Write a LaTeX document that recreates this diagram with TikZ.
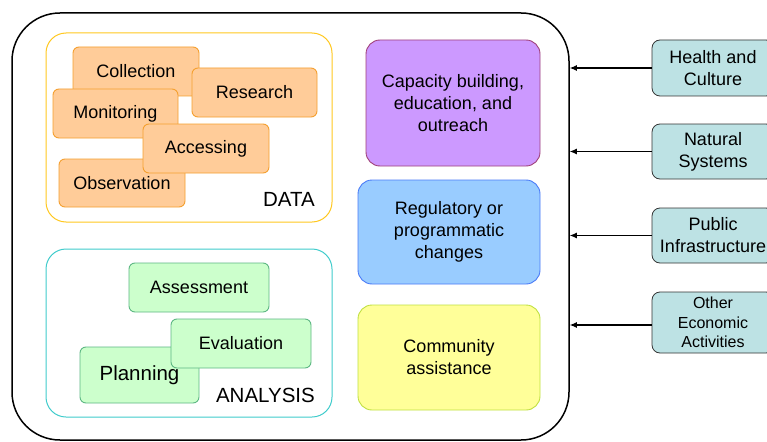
\documentclass[tikz,border=0pt]{standalone}
\usepackage{fontspec}
\setmainfont{Liberation Sans}
\usetikzlibrary{arrows.meta}
\definecolor{orfill}{HTML}{FFCC99}
\definecolor{ordraw}{HTML}{F5A030}
\definecolor{dataframe}{HTML}{FFC820}
\definecolor{anframe}{HTML}{40CCCC}
\definecolor{grfill}{HTML}{CCFFCC}
\definecolor{grdraw}{HTML}{5DB883}
\definecolor{pufill}{HTML}{CC99FF}
\definecolor{pudraw}{HTML}{A0407A}
\definecolor{blfill}{HTML}{99CCFF}
\definecolor{bldraw}{HTML}{4A7BF7}
\definecolor{yefill}{HTML}{FFFF99}
\definecolor{yedraw}{HTML}{C0E040}
\definecolor{tefill}{HTML}{BDE2E4}
\definecolor{tedraw}{HTML}{333333}
\tikzset{
  base/.style={inner sep=0pt, align=center, line width=0.9pt, font=\fontsize{18}{22}\selectfont},
  databox/.style={base, fill=orfill, draw=ordraw, rounded corners=6pt, minimum width=126pt, minimum height=49pt},
  anbox/.style={base, fill=grfill, draw=grdraw, rounded corners=6pt, minimum height=49pt},
  midbox/.style={base, rounded corners=14pt},
  impact/.style={base, fill=tefill, draw=tedraw, rounded corners=8pt, minimum width=122pt, line width=0.8pt},
  frame/.style={draw, line width=1pt, rounded corners=20pt, inner sep=0pt},
  lbl/.style={inner sep=0pt, anchor=east, font=\fontsize{20.5}{24}\selectfont},
  conn/.style={line width=1.1pt, -{Latex[length=7pt,width=6pt]}}
}
\begin{document}
\begin{tikzpicture}[x=1pt,y=-1pt]
\useasboundingbox (0,0) rectangle (767,441);
\fill[white] (0,0) rectangle (767,441);
% outer frame
\node[draw=black, line width=1.5pt, rounded corners=48pt, minimum width=557pt, minimum height=427pt, inner sep=0pt] (outer) at (290.5,226.5) {};
% DATA group
\node[frame, draw=dataframe, minimum width=286pt, minimum height=189pt] (dataf) at (189,127.5) {};
\node[databox] (coll) at (136,71.5) {Collection};
\node[databox, minimum width=125pt] (res) at (254.5,92.5) {Research};
\node[databox, minimum width=125pt] (mon) at (115.5,113.5) {Monitoring};
\node[databox, minimum height=48pt] (obs) at (122,183) {Observation};
\node[databox] (acc) at (206,148.5) {Accessing};
\node[lbl] (datal) at (315,199) {DATA};
% ANALYSIS group
\node[frame, draw=anframe, minimum width=286pt, minimum height=168pt] (anf) at (189,333) {};
\node[anbox, minimum width=140pt] (ass) at (199,287.5) {Assessment};
\node[anbox, minimum width=119pt, minimum height=56pt, font=\fontsize{20.5}{24}\selectfont] (plan) at (139.5,375) {Planning};
\node[anbox, minimum width=140pt] (eval) at (241,343.5) {Evaluation};
\node[lbl] (anl) at (315,395) {ANALYSIS};
% middle column
\node[midbox, fill=pufill, draw=pudraw, minimum width=174pt, minimum height=126pt] (cap) at (453,103) {Capacity building,\\education, and\\outreach};
\node[midbox, fill=blfill, draw=bldraw, minimum width=182pt, minimum height=104pt] (reg) at (449,232) {Regulatory or\\programmatic\\changes};
\node[midbox, fill=yefill, draw=yedraw, minimum width=182pt, minimum height=105pt] (com) at (449,357.5) {Community\\assistance};
% right column
\node[impact, minimum height=56pt] (hc) at (713,68) {Health and\\Culture};
\node[impact, minimum height=55pt] (ns) at (713,151.5) {Natural\\Systems};
\node[impact, minimum height=55pt] (pi) at (713,235.5) {Public\\Infrastructure};
\node[impact, minimum height=61pt, font=\fontsize{16}{19.5}\selectfont] (oe) at (713,322.5) {Other\\Economic\\Activities};
% connectors
\draw[conn] (hc.west) -- (outer.east |- hc.west);
\draw[conn] (ns.west) -- (outer.east |- ns.west);
\draw[conn] (pi.west) -- (outer.east |- pi.west);
\draw[conn] (oe.west |- 0,325) -- (outer.east |- 0,325);
\end{tikzpicture}
\end{document}
